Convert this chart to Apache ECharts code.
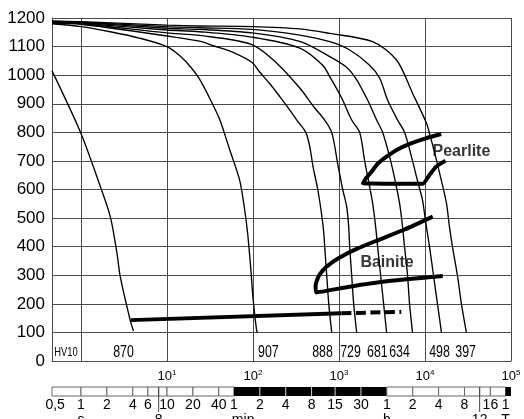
<!DOCTYPE html>
<html><head><meta charset="utf-8">
<script src="https://cdn.jsdelivr.net/npm/echarts@6/dist/echarts.min.js"></script>
<style>html,body{margin:0;padding:0;background:#fff}#c{width:524px;height:419px}</style>
</head><body><div id="c"></div>
<script>
// ---------- data (time in seconds, temperature in °C) ----------
const curve870 = [[0.46,1015],[0.98,802],[1.68,610],[2.19,505],[2.62,377],[2.86,295],[3.73,143],[4.08,105]];
const curve907 = [[0.46,1180],[1,1170],[2.19,1152],[4.88,1129],[9.95,1100],[14.1,1068],[18.4,1032],[24,985],[33.1,905],[41,845],[53.5,740],[69.9,633],[79.9,530],[86.6,447],[93.8,330],[100.5,213],[110,108],[113,100]];
const curve888 = [[0.46,1182],[1,1178],[9.95,1137],[24,1119],[35.2,1102],[58.5,1080],[97,1045],[120,1010],[157,970],[205,925],[268,878],[323,843],[411,800],[457,750],[499,680],[566,600],[625,517],[664,450],[682,400],[720,300],[760,200],[823,100]];
const curve729 = [[0.46,1184],[1,1180],[9.95,1148],[24,1139],[97,1107],[189,1042],[350,955],[522,885],[682,843],[823,800],[966,690],[1104,600],[1228,540],[1296,470],[1331,400],[1404,300],[1481,200],[1605,100]];
const curve681 = [[0.46,1186],[1,1182],[9.95,1158],[24,1152],[97,1133],[350,1095],[647,1035],[780,995],[1075,920],[1404,843],[1739,800],[1987,700],[2271,610],[2460,552],[2666,470],[2812,400],[3047,300],[3301,200],[3576,100]];
const curve634 = [[0.46,1187],[1,1184],[9.95,1164],[24,1160],[97,1148],[350,1118],[780,1065],[1196,1030],[1562,990],[2152,913],[2738,843],[3214,800],[3874,715],[4429,640],[5061,552],[5483,470],[5783,400],[6266,300],[6612,200],[7161,100]];
const curve498 = [[0.46,1188],[1,1185],[9.95,1170],[24,1166],[97,1160],[350,1140],[780,1117],[1331,1088],[2271,1035],[2966,990],[3673,913],[4797,843],[5783,800],[7161,700],[8185,630],[9354,563],[10134,490],[11278,400],[12548,300],[13964,200],[15537,100]];
const curve397 = [[0.46,1190],[1,1187],[9.95,1175],[24,1172],[97,1170],[350,1162],[780,1146],[2460,1117],[4670,1053],[7161,937],[10409,832],[11278,797],[13598,703],[15537,630],[17757,552],[19240,470],[20845,400],[23823,300],[26508,200],[30294,100]];
const bainite = [[16090,297],[3239,277],[1331,260],[541,240],[534,262],[559,285],[597,303],[714,330],[1019,362],[1648,394],[2966,425],[5783,460],[12317,505]];
const pearlite = [[15413,794],[10409,780],[6971,762],[4797,740],[3576,715],[2812,690],[2363,660],[2040,638],[1899,622],[9430,620],[11278,651],[13489,680],[17290,701]];
const msSolid = [[3.8,143],[1066,167]];
const msDashed = [[1066,167],[5296,172]];
const hardnessLabels = ['HV10','870','907','888','729','681','634','498','397'];
const hardnessTimes = [0.667,3.12,151,644,1359,2797,5058,14730,29650];
const hardnessTemp = 30;
const phaseLabels = ['Pearlite','Bainite'];
const phasePoints = [[26508,731],[3624,343]];
const barSegments = [[0.46,1,0],[1,2,0],[2,4,0],[4,6,0],[6,8,0],[8,10,0],[10,20,0],[20,40,0],[40,60,0],[60,120,1],[120,240,1],[240,480,1],[480,900,1],[900,1800,1],[1800,3600,1],[3600,7200,0],[7200,14400,0],[14400,28800,0],[28800,43200,0],[43200,57600,0],[57600,86400,0],[86400,100000,1]];
const barLabelText = ['0,5','1','2','4','6','10','20','40','1','2','4','8','15','30','1','2','4','8','16','1'];
const barLabelTimes = [0.5,1,2,4,6,10,20,40,60,120,240,480,900,1800,3600,7200,14400,28800,57600,86400];
const unitText = ['s','8','min','h','12','T'];
const unitTimes = [1,8,76.8,3600,43200,86400];
const longTickTimes = [8,43200];
const yMin = 0, yMax = 1200, yStep = 100;
const xMin = 0.46, xMax = 100000;

// ---------- chart ----------
const SANS = "'Liberation Sans',Arial,sans-serif";
const chart = echarts.init(document.getElementById('c'), null, {renderer:'canvas'});
function curveSeries(data, opts) {
  return Object.assign({
    type:'line', xAxisIndex:0, yAxisIndex:0, data:data, showSymbol:false, symbol:'none',
    smooth:0.3, silent:true, z:3, lineStyle:{color:'#000', width:1.35}
  }, opts || {});
}
const grey = '#4a4a4a';
const option = {
  animation:false,
  backgroundColor:'#fff',
  grid:[{left:52, right:13, top:18, bottom:58, containLabel:false, outerBoundsMode:'none'},
        {left:52, right:13, top:387, height:9, containLabel:false, outerBoundsMode:'none'}],
  xAxis:[{
    type:'log', gridIndex:0, min:xMin, max:xMax, logBase:10,
    axisLine:{show:true, lineStyle:{color:grey, width:1}}, axisTick:{show:false},
    splitLine:{show:true, lineStyle:{color:grey, width:1}},
    axisLabel:{interval:0, showMinLabel:true, showMaxLabel:true, hideOverlap:false, margin:8, color:'#000',
      formatter:function(v){ const e=Math.round(Math.log10(v)); if(Math.abs(Math.log10(v)-e)>0.01||e<1) return ''; return '{b|10}{s|'+e+'}'; },
      rich:{b:{fontSize:13, fontFamily:SANS, color:'#000'}, s:{fontSize:8, fontFamily:SANS, color:'#000', verticalAlign:'top', padding:[0,0,6,0]}}}
  },{type:'log', gridIndex:1, min:xMin, max:xMax, show:false}],
  yAxis:[{
    type:'value', gridIndex:0, min:yMin, max:yMax, interval:yStep,
    axisLine:{show:true, lineStyle:{color:grey, width:1}}, axisTick:{show:false},
    splitLine:{show:true, lineStyle:{color:grey, width:1}},
    axisLabel:{fontSize:17, fontFamily:SANS, color:'#000', margin:7, formatter:function(v){return String(v);}}
  },{type:'value', gridIndex:1, min:0, max:1, show:false}],
  series:[
    curveSeries(curve870), curveSeries(curve907), curveSeries(curve888), curveSeries(curve729),
    curveSeries(curve681), curveSeries(curve634), curveSeries(curve498), curveSeries(curve397),
    curveSeries(bainite, {smooth:0.2, z:4, lineStyle:{color:'#000', width:4, join:'round'}}),
    curveSeries(pearlite, {smooth:0.15, z:4, lineStyle:{color:'#000', width:4, join:'round'}}),
    curveSeries(msSolid, {smooth:false, z:4, lineStyle:{color:'#000', width:4}}),
    curveSeries(msDashed, {smooth:false, z:4, lineStyle:{color:'#000', width:4, type:[10,4.5]}}),
    {
      // hardness values (condensed lettering as in the original)
      type:'custom', xAxisIndex:0, yAxisIndex:0, silent:true, z:5,
      data: hardnessTimes.map(function(t){ return [t, hardnessTemp]; }),
      renderItem:function(params, api){
        const p = api.coord([api.value(0), api.value(1)]);
        const first = params.dataIndex === 0;
        return {type:'text', x:p[0], y:p[1], scaleX:0.75,
          style:{text:hardnessLabels[params.dataIndex], fill:'#000', fontSize: first ? 12.5 : 16.5,
                 fontFamily:SANS, align:'center', verticalAlign:'middle'}};
      }
    },
    {
      type:'scatter', xAxisIndex:0, yAxisIndex:0, silent:true, symbolSize:1, z:6,
      itemStyle:{color:'rgba(0,0,0,0)'},
      data: phasePoints,
      label:{show:true, position:'inside', color:'#000', fontSize:16, fontWeight:'bold', fontFamily:SANS,
        formatter:function(p){ return phaseLabels[p.dataIndex]; }}
    },
    {
      type:'custom', xAxisIndex:1, yAxisIndex:1, silent:true, z:2,
      data: barSegments,
      renderItem:function(params, api){
        const p0 = api.coord([api.value(0), 1]);
        const p1 = api.coord([api.value(1), 0]);
        const black = api.value(2) === 1;
        const children = [{type:'rect', shape:{x:p0[0], y:p0[1], width:p1[0]-p0[0], height:p1[1]-p0[1]},
          style: black ? {fill:'#000'} : {fill:'#fff', stroke:'#666', lineWidth:1}}];
        if (black && params.dataIndex>0 && barSegments[params.dataIndex-1][2]===1) {
          children.push({type:'line', shape:{x1:p0[0], y1:p0[1], x2:p0[0], y2:p1[1]}, style:{stroke:'#ccc', lineWidth:1}});
        }
        return {type:'group', children:children};
      }
    },
    {
      type:'custom', xAxisIndex:1, yAxisIndex:1, silent:true, z:3,
      data: longTickTimes.map(function(t){return [t,0];}),
      renderItem:function(params, api){
        const p0 = api.coord([api.value(0), 1]);
        const p1 = api.coord([api.value(0), 0]);
        return {type:'line', shape:{x1:p0[0], y1:p0[1], x2:p1[0], y2:p1[1]+16}, style:{stroke:'#444', lineWidth:1}};
      }
    },
    {
      type:'custom', xAxisIndex:1, yAxisIndex:1, silent:true, z:3,
      data: barLabelTimes.map(function(t){return [t,0];}),
      renderItem:function(params, api){
        const p = api.coord([api.value(0), 0]);
        return {type:'text', x:p[0], y:p[1]+2, style:{text:barLabelText[params.dataIndex], fill:'#000', fontSize:14, fontFamily:SANS, align:'center', verticalAlign:'top'}};
      }
    },
    {
      type:'custom', xAxisIndex:1, yAxisIndex:1, silent:true, z:3,
      data: unitTimes.map(function(t){return [t,0];}),
      renderItem:function(params, api){
        const p = api.coord([api.value(0), 0]);
        return {type:'text', x:p[0], y:p[1]+17, style:{text:unitText[params.dataIndex], fill:'#000', fontSize:14, fontFamily:SANS, align:'center', verticalAlign:'top'}};
      }
    }
  ]
};
chart.setOption(option);
</script></body></html>
